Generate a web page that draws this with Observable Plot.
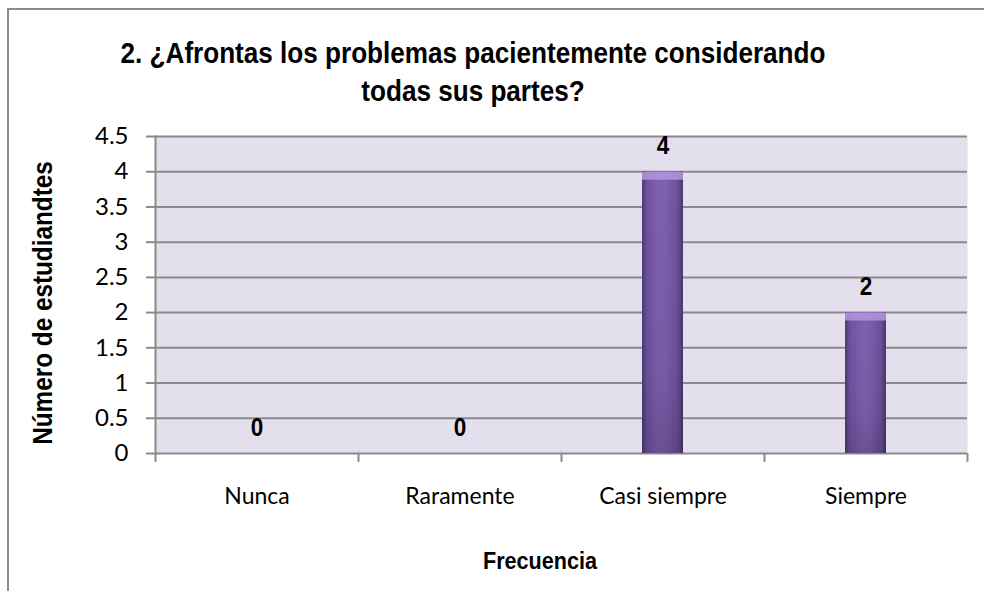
<!DOCTYPE html>
<html><head><meta charset="utf-8">
<script src="https://cdn.jsdelivr.net/npm/d3@7"></script>
<script src="https://cdn.jsdelivr.net/npm/@observablehq/plot@0.6"></script>
<style>
body{margin:0;background:#fff;}
#wrap{position:relative;width:984px;height:591px;overflow:hidden;background:#fff;}
#border{position:absolute;left:7px;top:8px;width:1000px;height:700px;border-top:2px solid #8c8c8c;border-left:2px solid #8c8c8c;}
.nar{font-family:"Liberation Sans",Arial,sans-serif;font-weight:bold;color:#000;white-space:nowrap;}
#title{position:absolute;left:0;width:946px;top:34px;text-align:center;font-size:29px;line-height:38px;transform:scaleX(0.9);}
#ytitle{position:absolute;left:43px;top:303px;transform:translate(-50%,-50%) rotate(-90deg) scaleX(0.9);font-size:27px;}
#xtitle{position:absolute;left:540px;top:561px;transform:translate(-50%,-50%) scaleX(0.9);font-size:24px;}
#chart{position:absolute;left:0;top:0;}
</style>
</head>
<body>
<div id="wrap">
  <div id="border"></div>
  <div id="chart"></div>
  <div id="title" class="nar"></div>
  <div id="ytitle" class="nar"></div>
  <div id="xtitle" class="nar"></div>
</div>
<script>
const categories = ["Nunca", "Raramente", "Casi siempre", "Siempre"];
const counts = [0, 0, 4, 2];
const yTicks = [0, 0.5, 1, 1.5, 2, 2.5, 3, 3.5, 4, 4.5];
const titleLines = ["2. ¿Afrontas los problemas pacientemente considerando", "todas sus partes?"];
const yLabel = "Número de estudiandtes";
const xLabel = "Frecuencia";

const data = categories.map((c, i) => ({cat: c, value: counts[i]}));
const W = 984, H = 591, mL = 155, mR = 17, mT = 136, mB = 138;
const step = (W - mL - mR) / categories.length;
const gridColor = "#8a8a8a";

const plot = Plot.plot({
  width: W, height: H,
  marginLeft: mL, marginRight: mR, marginTop: mT, marginBottom: mB,
  style: {fontFamily: "Lato, sans-serif", fontSize: "22px", color: "#000", background: "transparent"},
  x: {domain: categories, paddingInner: 0.8, paddingOuter: 0.4, axis: null, label: null},
  y: {domain: [0, 4.5], axis: null, label: null},
  marks: [
    Plot.frame({fill: "#e4dfec", stroke: "none"}),
    Plot.gridY(yTicks, {stroke: gridColor, strokeWidth: 2, strokeOpacity: 1}),
    Plot.axisY(yTicks, {label: null, tickSize: 9, tickPadding: 18, stroke: gridColor, strokeWidth: 2, fill: "#000", fontSize: 24, tickFormat: d => String(d)}),
    Plot.frame({anchor: "left", stroke: gridColor, strokeWidth: 2}),
    Plot.axisX({label: null, tickSize: 0, tickPadding: 34, fontSize: 23, fill: "#000"}),
    Plot.ruleX(categories, {x: d => d, dx: -step / 2, y1: 0, y2: -0.125, stroke: gridColor, strokeWidth: 2}),
    Plot.ruleX(categories.slice(-1), {x: d => d, dx: step / 2, y1: 0, y2: -0.125, stroke: gridColor, strokeWidth: 2}),
    Plot.barY(data, {x: "cat", y: "value", fill: "url(#barGrad)"}),
    Plot.barY(data, {x: "cat", y: "value", fill: "url(#barShade)"}),
    Plot.tickY(data.filter(d => d.value > 0), {x: "cat", y: "value", stroke: "#b397dd", strokeWidth: 8, dy: 4, strokeOpacity: 0.85}),
    Plot.text(data, {x: "cat", y: "value", text: d => String(d.value), dy: -26, fontFamily: '"Liberation Sans", Arial, sans-serif', fontWeight: "bold", fontSize: 25, fill: "#000", className: "vlabel"})
  ]
});

const defs = d3.select(plot).insert("defs", ":first-child");
const g = defs.append("linearGradient").attr("id", "barGrad").attr("x1", 0).attr("x2", 1).attr("y1", 0).attr("y2", 0);
[[0, "#4f3a72"], [0.12, "#6e52a0"], [0.4, "#7f60b0"], [0.6, "#7d5fad"], [0.88, "#6a4f99"], [1, "#4a366b"]]
  .forEach(([o, c]) => g.append("stop").attr("offset", o).attr("stop-color", c));
const s = defs.append("linearGradient").attr("id", "barShade").attr("x1", 0).attr("x2", 0).attr("y1", 0).attr("y2", 1);
[[0, "rgba(0,0,0,0)"], [0.7, "rgba(0,0,0,0.05)"], [1, "rgba(0,0,0,0.16)"]]
  .forEach(([o, c]) => s.append("stop").attr("offset", o).attr("stop-color", c));

// narrow the bold value labels like Arial Narrow
d3.select(plot).selectAll("g.vlabel text, .vlabel text").each(function() {
  const t = this.getAttribute("transform");
  if (t) {
    this.setAttribute("transform", t + " scale(0.9,1)");
  } else {
    const x = +this.getAttribute("x") || 0, y = +this.getAttribute("y") || 0;
    this.removeAttribute("x"); this.removeAttribute("y");
    this.setAttribute("transform", `translate(${x},${y}) scale(0.9,1)`);
  }
});

document.getElementById("chart").appendChild(plot);
document.getElementById("title").innerHTML = titleLines.join("<br>");
document.getElementById("ytitle").textContent = yLabel;
document.getElementById("xtitle").textContent = xLabel;
</script>
</body></html>
